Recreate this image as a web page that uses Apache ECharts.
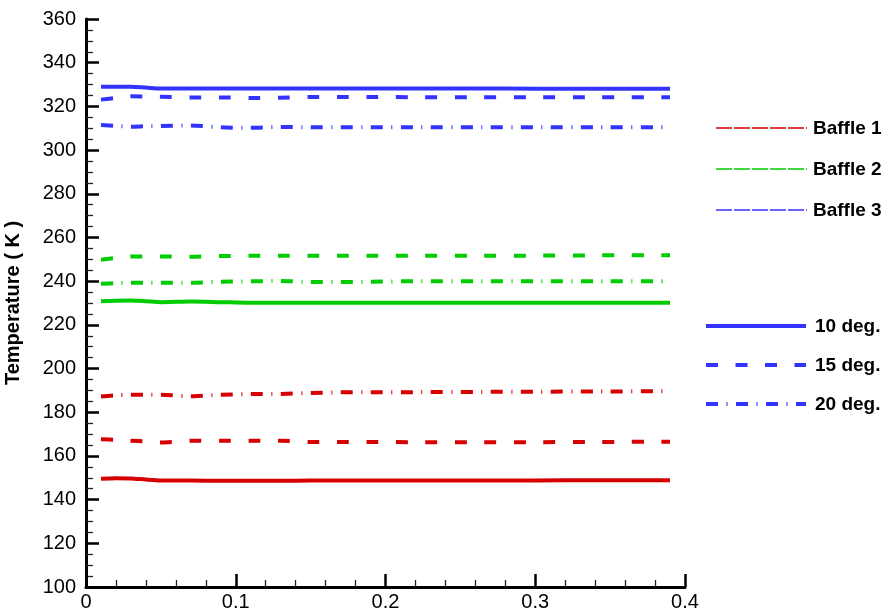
<!DOCTYPE html>
<html>
<head>
<meta charset="utf-8">
<script src="https://cdn.jsdelivr.net/npm/echarts@6/dist/echarts.min.js"></script>
<style>
  html, body { margin: 0; padding: 0; background: #fff; }
  #chart { width: 891px; height: 614px; }
</style>
</head>
<body>
<div id="chart"></div>
<script>
// Sampling positions along the baffle (x)
const xPositions = [0.01, 0.02, 0.03, 0.04, 0.05, 0.07, 0.09, 0.11, 0.13, 0.15, 0.17, 0.19, 0.22, 0.26, 0.30, 0.34, 0.39];

// Temperature (K) per baffle and inclination angle
const baffle1Deg10 = [149.5, 149.8, 149.7, 149.2, 148.8, 148.7, 148.6, 148.6, 148.6, 148.7, 148.7, 148.7, 148.7, 148.7, 148.8, 148.9, 148.9];
const baffle1Deg15 = [167.6, 167.4, 167.0, 166.6, 166.2, 166.9, 166.9, 167.0, 167.0, 166.4, 166.4, 166.4, 166.3, 166.3, 166.3, 166.4, 166.5];
const baffle1Deg20 = [187.2, 187.8, 188.0, 188.0, 188.0, 187.3, 188.0, 188.3, 188.4, 188.8, 189.1, 189.1, 189.2, 189.3, 189.4, 189.5, 189.6];

const baffle2Deg10 = [230.8, 231.0, 231.1, 230.8, 230.4, 230.7, 230.4, 230.1, 230.1, 230.1, 230.1, 230.1, 230.1, 230.1, 230.1, 230.1, 230.1];
const baffle2Deg15 = [249.8, 250.6, 251.3, 251.3, 251.3, 251.2, 251.5, 251.6, 251.6, 251.6, 251.6, 251.6, 251.6, 251.6, 251.7, 251.8, 251.9];
const baffle2Deg20 = [238.8, 239.1, 239.3, 239.3, 239.3, 239.3, 239.7, 239.9, 240.1, 239.6, 239.6, 239.7, 240.0, 240.0, 240.0, 240.0, 240.0];

const baffle3Deg10 = [329.0, 329.0, 329.0, 328.6, 328.2, 328.2, 328.2, 328.2, 328.2, 328.2, 328.2, 328.2, 328.2, 328.2, 328.1, 328.1, 328.1];
const baffle3Deg15 = [323.1, 323.9, 324.6, 324.5, 324.4, 324.1, 324.1, 323.8, 324.0, 324.3, 324.3, 324.3, 324.2, 324.2, 324.2, 324.2, 324.2];
const baffle3Deg20 = [311.5, 311.1, 310.7, 310.9, 311.0, 311.3, 310.4, 310.2, 310.6, 310.4, 310.4, 310.4, 310.5, 310.5, 310.5, 310.5, 310.5];

const baffleNames = ['Baffle 1', 'Baffle 2', 'Baffle 3'];
const angleNames = ['10 deg.', '15 deg.', '20 deg.'];

const baffleColors = ['#d60000', '#00cc00', '#3333ff'];
const angleDash = ['solid', [12, 17.5], [12, 8.5, 1, 8.5]];

const table = [
  [baffle1Deg10, baffle1Deg15, baffle1Deg20],
  [baffle2Deg10, baffle2Deg15, baffle2Deg20],
  [baffle3Deg10, baffle3Deg15, baffle3Deg20]
];

const series = [];
table.forEach((rows, b) => {
  rows.forEach((vals, a) => {
    series.push({
      type: 'line',
      name: baffleNames[b] + ' ' + angleNames[a],
      data: xPositions.map((x, i) => [x, vals[i]]),
      showSymbol: false,
      symbol: 'none',
      smooth: 0.25,
      lineStyle: { color: baffleColors[b], width: 4, type: angleDash[a], cap: 'butt' },
      silent: true
    });
  });
});

// Key drawn at the right of the plot
const fontFamily = '"Liberation Sans", Arial, sans-serif';
const legendGraphics = [];
const baffleKeyY = [128, 169, 210];
baffleNames.forEach((name, i) => {
  legendGraphics.push({
    type: 'line',
    shape: { x1: 716, y1: baffleKeyY[i], x2: 807, y2: baffleKeyY[i] },
    style: { stroke: baffleColors[i], lineWidth: 1.3, lineDash: [16, 2] }
  });
  legendGraphics.push({
    type: 'text', x: 813, y: baffleKeyY[i] + 1,
    style: { text: name, font: 'bold 19px ' + fontFamily, fill: '#000', verticalAlign: 'middle' }
  });
});
const angleKeyY = [326, 365, 404];
angleNames.forEach((name, i) => {
  const dash = angleDash[i] === 'solid' ? null : angleDash[i];
  legendGraphics.push({
    type: 'line',
    shape: { x1: 706, y1: angleKeyY[i], x2: 806, y2: angleKeyY[i] },
    style: { stroke: baffleColors[2], lineWidth: 4, lineDash: dash, lineCap: 'butt' }
  });
  legendGraphics.push({
    type: 'text', x: 815, y: angleKeyY[i] + 1,
    style: { text: name, font: 'bold 19px ' + fontFamily, fill: '#000', verticalAlign: 'middle' }
  });
});

const chart = echarts.init(document.getElementById('chart'), null, { renderer: 'canvas' });
chart.setOption({
  animation: false,
  backgroundColor: '#fff',
  grid: { left: 86, right: 206, top: 19, bottom: 27, containLabel: false, outerBoundsMode: 'none' },
  xAxis: {
    type: 'value',
    min: 0, max: 0.4, interval: 0.1,
    axisLine: { show: true, onZero: false, lineStyle: { color: '#000', width: 3 } },
    axisTick: { show: true, inside: true, length: 13, lineStyle: { color: '#000', width: 2.5 } },
    minorTick: { show: true, splitNumber: 5, length: 7, lineStyle: { color: '#222', width: 1.3 } },
    axisLabel: { color: '#000', fontSize: 20, fontFamily: fontFamily, margin: 5 },
    splitLine: { show: false }
  },
  yAxis: {
    type: 'value',
    min: 100, max: 360, interval: 20,
    name: 'Temperature ( K )',
    nameLocation: 'middle',
    nameRotate: 90,
    nameGap: 63,
    nameTextStyle: { color: '#000', fontSize: 20, fontWeight: 'bold', fontFamily: fontFamily },
    axisLine: { show: true, onZero: false, lineStyle: { color: '#000', width: 3 } },
    axisTick: { show: true, inside: true, length: 13, lineStyle: { color: '#000', width: 2.5 } },
    minorTick: { show: true, splitNumber: 4, length: 7, lineStyle: { color: '#222', width: 1.3 } },
    axisLabel: { color: '#000', fontSize: 20, fontFamily: fontFamily, margin: 10 },
    splitLine: { show: false }
  },
  graphic: legendGraphics,
  series: series
});
</script>
</body>
</html>
